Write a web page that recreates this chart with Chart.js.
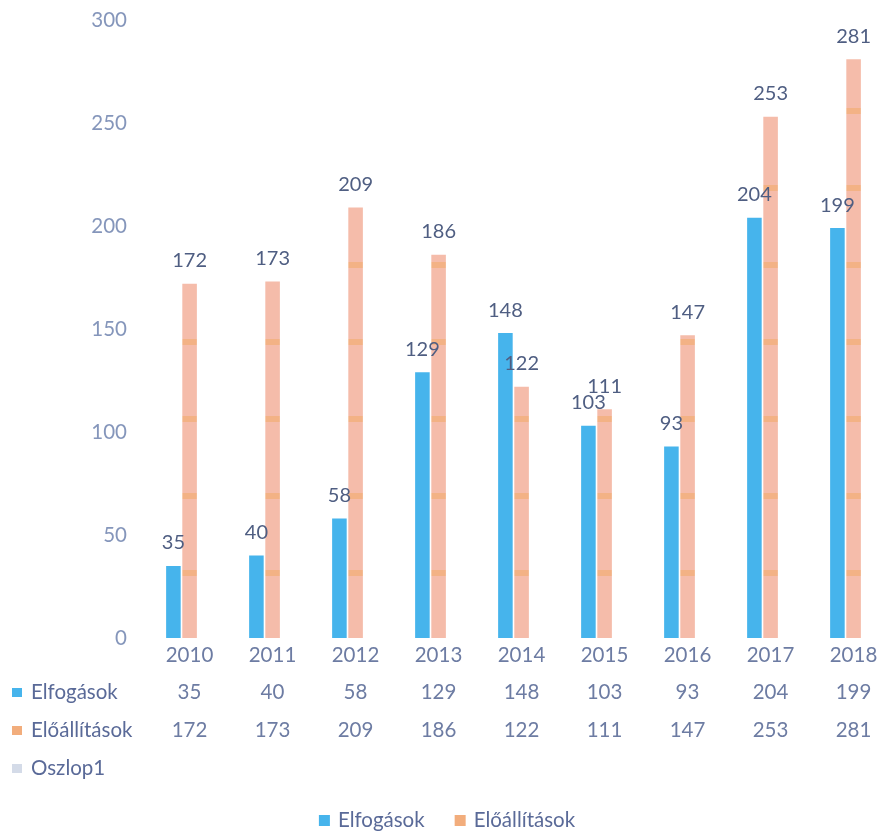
<!DOCTYPE html>
<html>
<head>
<meta charset="utf-8">
<script src="https://cdn.jsdelivr.net/npm/chart.js@4"></script>
<style>
  html, body { margin: 0; padding: 0; background: #fff; }
  #wrap { width: 887px; height: 838px; }
</style>
</head>
<body>
<div id="wrap"><canvas id="chart" width="887" height="838"></canvas></div>
<script>
const years = ['2010', '2011', '2012', '2013', '2014', '2015', '2016', '2017', '2018']
const elfogasok = [35, 40, 58, 129, 148, 103, 93, 204, 199]
const eloallitasok = [172, 173, 209, 186, 122, 111, 147, 253, 281]
const yTicks = [0, 50, 100, 150, 200, 250, 300]

const FONT = 'Lato, "Open Sans", sans-serif'
const blue = '#46b4ec'
const orangeSolid = '#f2ad7c'

// pinkish orange fill with the faint horizontal bands of the scan
function orangePattern() {
  const c = document.createElement('canvas')
  c.width = 4
  c.height = 77
  const g = c.getContext('2d')
  g.fillStyle = '#f5bcaa'
  g.fillRect(0, 0, 4, 77)
  g.fillStyle = '#f3b285'
  g.fillRect(0, 31, 4, 6)
  return g.createPattern(c, 'repeat')
}

// numbers above the bars
const valueLabels = {
  id: 'valueLabels',
  afterDatasetsDraw(chart) {
    const ctx = chart.ctx
    ctx.save()
    ctx.font = '20px ' + FONT
    ctx.fillStyle = '#4f5e82'
    ctx.textAlign = 'center'
    ctx.textBaseline = 'middle'
    chart.data.datasets.forEach((ds, i) => {
      chart.getDatasetMeta(i).data.forEach((bar, j) => {
        ctx.fillText(String(ds.data[j]), bar.x, bar.y - 23)
      })
    })
    ctx.restore()
  }
}

// data table under the plot, then the legend at the bottom
const dataTable = {
  id: 'dataTable',
  afterDraw(chart) {
    const ctx = chart.ctx
    const x = chart.scales.x
    const top = chart.chartArea.bottom
    ctx.save()
    ctx.font = '20.5px ' + FONT
    ctx.textBaseline = 'middle'

    ctx.textAlign = 'center'
    ctx.fillStyle = '#6d7ca3'
    years.forEach((y, i) => ctx.fillText(y, x.getPixelForValue(i) + 8, top + 17))
    elfogasok.forEach((v, i) => ctx.fillText(String(v), x.getPixelForValue(i) + 8, top + 54))
    eloallitasok.forEach((v, i) => ctx.fillText(String(v), x.getPixelForValue(i) + 8, top + 92))

    const rows = [
      ['Elfogások', blue, top + 54],
      ['Előállítások', orangeSolid, top + 92],
      ['Oszlop1', '#d4dbe8', top + 130]
    ]
    ctx.textAlign = 'left'
    rows.forEach(([name, col, y]) => {
      ctx.fillStyle = col
      ctx.fillRect(12, y - 4, 10, 9)
      ctx.fillStyle = '#5a6a98'
      ctx.fillText(name, 31, y)
    })

    // legend
    const items = chart.data.datasets.map((ds, i) => [ds.label, i === 0 ? blue : orangeSolid])
    const widths = items.map(([t]) => 11 + 8 + ctx.measureText(t).width)
    const gap = 30
    const total = widths.reduce((a, b) => a + b, 0) + gap
    let lx = 447 - total / 2
    const ly = 820
    items.forEach(([t, col], i) => {
      ctx.fillStyle = col
      ctx.fillRect(lx, ly - 5, 11, 11)
      ctx.fillStyle = '#5a6a98'
      ctx.fillText(t, lx + 19, ly)
      lx += widths[i] + gap
    })
    ctx.restore()
  }
}

const ctx = document.getElementById('chart').getContext('2d')
new Chart(ctx, {
  type: 'bar',
  data: {
    labels: years,
    datasets: [
      { label: 'Elfogások', data: elfogasok, backgroundColor: blue },
      { label: 'Előállítások', data: eloallitasok, backgroundColor: orangePattern() }
    ]
  },
  options: {
    responsive: false,
    animation: false,
    layout: { padding: { top: 20, right: 0, left: 0, bottom: 0 } },
    datasets: { bar: { categoryPercentage: 0.39, barPercentage: 0.9 } },
    scales: {
      x: {
        grid: { display: false },
        border: { display: false },
        ticks: { display: false },
        afterFit(scale) { scale.height = 200 }
      },
      y: {
        min: 0,
        max: 300,
        grid: { display: false, drawTicks: false },
        border: { display: false },
        afterFit(scale) {
          scale.width = 140
          scale.paddingTop = 0
          scale.paddingBottom = 0
        },
        afterBuildTicks(scale) { scale.ticks = yTicks.map(v => ({ value: v })) },
        ticks: {
          padding: 13,
          color: '#8596bb',
          font: { family: FONT, size: 20.5 }
        }
      }
    },
    plugins: {
      tooltip: { enabled: false },
      legend: { display: false }
    }
  },
  plugins: [valueLabels, dataTable]
})
</script>
</body>
</html>
